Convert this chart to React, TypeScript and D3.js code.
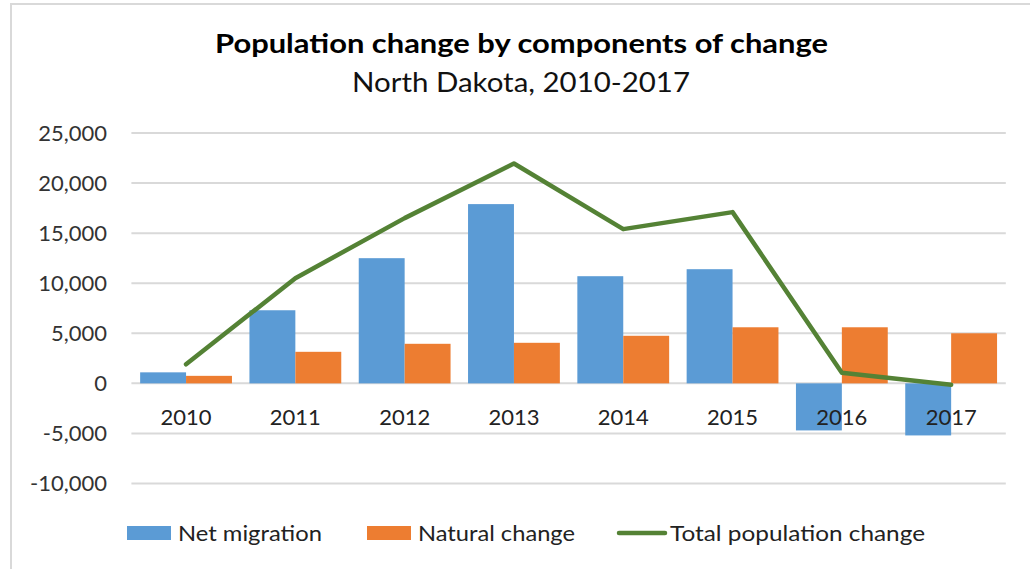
import React from "react";
import * as d3 from "d3";

// values (persons)
const years = ["2010", "2011", "2012", "2013", "2014", "2015", "2016", "2017"];
const netMigration = [1100, 7300, 12500, 17900, 10700, 11400, -4700, -5200];
const naturalChange = [750, 3150, 3950, 4050, 4750, 5600, 5600, 5000];
const totalChange = [1900, 10500, 16500, 21950, 15400, 17100, 1050, -150];
const yTicks = [-10000, -5000, 0, 5000, 10000, 15000, 20000, 25000];

const seriesNames = ["Net migration", "Natural change", "Total population change"];
const colors = ["#5b9bd5", "#ed7d31", "#548235"];

const width = 1030,
  height = 569;
const plot = { left: 131.4, right: 1005.8, top: 133, bottom: 483.5 };
const font = "Lato, 'Open Sans', sans-serif";

export default function App() {
  const x0 = d3
    .scaleBand()
    .domain(years)
    .range([plot.left, plot.right])
    .paddingInner(0.16)
    .paddingOuter(0.08);

  const x1 = d3
    .scaleBand()
    .domain(["net", "nat"])
    .range([0, x0.bandwidth()]);

  const y = d3
    .scaleLinear()
    .domain([-10000, 25000])
    .range([plot.bottom, plot.top]);

  // excel style: plain hyphen for negatives
  const fmt = (v: number) => d3.format(",")(v).replace("\u2212", "-");

  const line = d3
    .line<number>()
    .x((d, i) => (x0(years[i]) as number) + x0.bandwidth() / 2)
    .y((d) => y(d));

  const grid = yTicks.map((t) => (
    <line
      key={"g" + t}
      x1={plot.left}
      x2={plot.right}
      y1={y(t)}
      y2={y(t)}
      stroke="#d9d9d9"
      strokeWidth={2}
    />
  ));

  const yLabels = yTicks.map((t) => (
    <text
      key={"y" + t}
      x={107}
      y={y(t)}
      dy="0.36em"
      textAnchor="end"
      fontSize={22}
      fill="#333"
    >
      {fmt(t)}
    </text>
  ));

  const bars = years.map((yr, i) => {
    const bx = x0(yr) as number;
    const a = netMigration[i],
      b = naturalChange[i];
    return (
      <g key={"b" + yr}>
        <rect
          x={bx + (x1("net") as number)}
          y={y(Math.max(0, a))}
          width={x1.bandwidth()}
          height={Math.abs(y(a) - y(0))}
          fill={colors[0]}
        />
        <rect
          x={bx + (x1("nat") as number)}
          y={y(Math.max(0, b))}
          width={x1.bandwidth()}
          height={Math.abs(y(b) - y(0))}
          fill={colors[1]}
        />
      </g>
    );
  });

  const xLabels = years.map((yr) => (
    <text
      key={"x" + yr}
      x={(x0(yr) as number) + x0.bandwidth() / 2}
      y={425}
      textAnchor="middle"
      fontSize={22}
      fill="#222"
    >
      {yr}
    </text>
  ));

  // legend
  const legendY = 533;
  const legend = (
    <g fontSize={22} fill="#222">
      <rect x={127} y={legendY - 7} width={44} height={14} fill={colors[0]} />
      <text x={178} y={legendY} dy="0.36em" textLength={144} lengthAdjust="spacingAndGlyphs">
        {seriesNames[0]}
      </text>
      <rect x={367} y={legendY - 7} width={44} height={14} fill={colors[1]} />
      <text x={418} y={legendY} dy="0.36em" textLength={157} lengthAdjust="spacingAndGlyphs">
        {seriesNames[1]}
      </text>
      <line
        x1={619}
        x2={665}
        y1={legendY}
        y2={legendY}
        stroke={colors[2]}
        strokeWidth={4.5}
        strokeLinecap="round"
      />
      <text x={670} y={legendY} dy="0.36em" textLength={255} lengthAdjust="spacingAndGlyphs">
        {seriesNames[2]}
      </text>
    </g>
  );

  return (
    <svg
      width={width}
      height={height}
      style={{ position: "absolute", left: 0, top: 0, background: "#fff" }}
      fontFamily={font}
    >
      <rect x={0} y={0} width={width} height={height} fill="#fff" />
      {/* chart frame, only top and left edges visible */}
      <path d={`M11,${height} V4 H${width}`} fill="none" stroke="#d9d9d9" strokeWidth={2} />
      <text
        x={521.5}
        y={53}
        textAnchor="middle"
        fontSize={27}
        fontWeight="bold"
        fill="#000"
        textLength={613}
        lengthAdjust="spacingAndGlyphs"
      >
        Population change by components of change
      </text>
      <text
        x={521}
        y={92}
        textAnchor="middle"
        fontSize={26}
        fill="#111"
        textLength={338}
        lengthAdjust="spacingAndGlyphs"
      >
        North Dakota, 2010-2017
      </text>
      <g>{grid}</g>
      <g>{yLabels}</g>
      <g>{bars}</g>
      <g>{xLabels}</g>
      <path
        d={line(totalChange) || ""}
        fill="none"
        stroke={colors[2]}
        strokeWidth={4.5}
        strokeLinejoin="round"
        strokeLinecap="round"
      />
      {legend}
    </svg>
  );
}
